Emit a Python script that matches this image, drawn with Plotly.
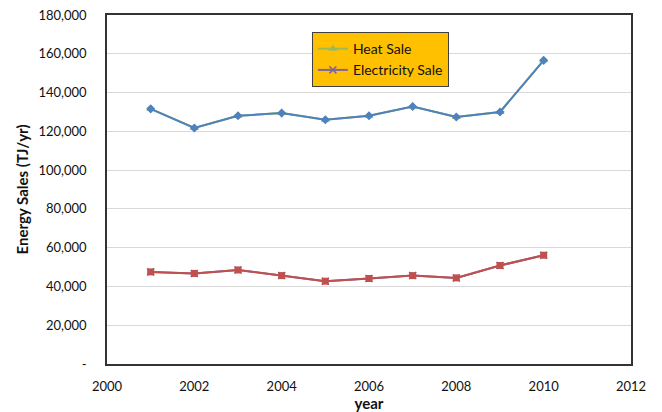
import plotly.graph_objects as go

years = [2001, 2002, 2003, 2004, 2005, 2006, 2007, 2008, 2009, 2010]
heat_sale = [131600, 121700, 128000, 129400, 126000, 128000, 132800, 127400, 130000, 156600]
electricity_sale = [47500, 46700, 48500, 45600, 42700, 44100, 45600, 44400, 50800, 56100]

y_tickvals = [0, 20000, 40000, 60000, 80000, 100000, 120000, 140000, 160000, 180000]
y_ticktext = ["-", "20,000", "40,000", "60,000", "80,000", "100,000", "120,000", "140,000", "160,000", "180,000"]
x_tickvals = [2000, 2002, 2004, 2006, 2008, 2010, 2012]

FONT = "Lato, 'Open Sans', sans-serif"

fig = go.Figure()
# legend series (underlying)
fig.add_trace(go.Scatter(x=years, y=heat_sale, name="Heat Sale", mode="lines+markers",
                         line=dict(color="#9BBB59", width=2),
                         marker=dict(symbol="triangle-up", size=8, color="#9BBB59")))
fig.add_trace(go.Scatter(x=years, y=electricity_sale, name="Electricity Sale", mode="lines+markers",
                         line=dict(color="#8064A2", width=2),
                         marker=dict(symbol="x-thin", size=7, color="#8064A2",
                                     line=dict(color="#8064A2", width=1.5))))
# visible overlay series
fig.add_trace(go.Scatter(x=years, y=heat_sale, showlegend=False, mode="lines+markers",
                         line=dict(color="#4F81BD", width=2),
                         marker=dict(symbol="diamond", size=7, color="#4F81BD")))
fig.add_trace(go.Scatter(x=years, y=electricity_sale, showlegend=False, mode="lines+markers",
                         line=dict(color="#C0504D", width=2),
                         marker=dict(symbol="square", size=7, color="#C0504D")))

fig.update_layout(
    width=662, height=412,
    margin=dict(l=107, r=31, t=15, b=48),
    paper_bgcolor="white", plot_bgcolor="white",
    font=dict(family=FONT, size=13, color="#111"),
    legend=dict(x=0.391, y=0.951, xanchor="left", yanchor="top",
                bgcolor="#FFC000", bordercolor="#404040", borderwidth=1,
                itemwidth=30,
                font=dict(size=14, color="#111"), tracegroupgap=2),
    xaxis=dict(range=[2000, 2012], tickvals=x_tickvals, showgrid=False, zeroline=False,
               showline=True, linecolor="#333", linewidth=1.5, mirror=True,
               ticks="", ticklabelstandoff=10, automargin=False,
               title=dict(text="<b>year</b>", font=dict(size=15), standoff=10)),
    yaxis=dict(range=[0, 180000], tickvals=y_tickvals, ticktext=y_ticktext,
               showgrid=True, gridcolor="#D9D9D9", gridwidth=1, zeroline=False,
               showline=True, linecolor="#333", linewidth=1.5, mirror=True,
               ticks="", ticklabelstandoff=16, automargin=False,
               title=dict(text="<b>Energy Sales (TJ/yr)</b>", font=dict(size=15), standoff=6)),
)

fig.write_html("out.html")
